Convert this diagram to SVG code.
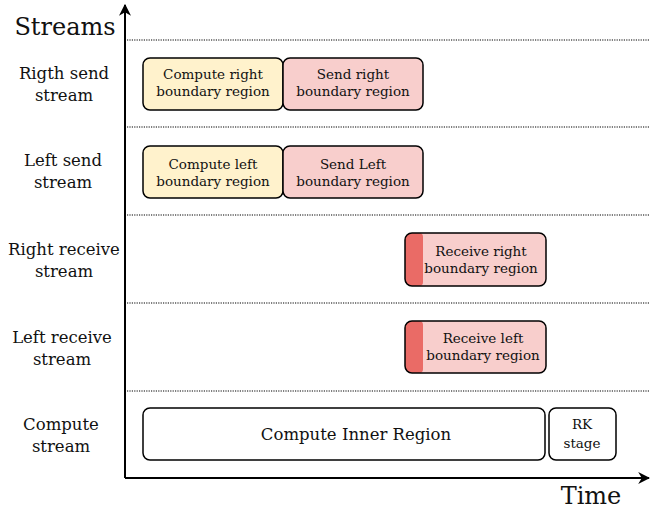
<svg xmlns="http://www.w3.org/2000/svg" width="657" height="509" viewBox="0 0 657 509">
<style>
text{font-family:"DejaVu Serif","Liberation Serif",serif;fill:#111;text-anchor:middle}
.lbl{font-size:16.5px}
.big{font-size:24px}
.bx{font-size:13.5px}
.in{font-size:16.5px}
.box{stroke:#000;stroke-width:1.5}
.dot{stroke:#000;stroke-width:1.2;stroke-dasharray:1.2 1.2;fill:none}
.ax{stroke:#000;stroke-width:2;fill:none}
</style>
<defs>
<marker id="ah" viewBox="0 0 10 10" refX="9" refY="5" markerWidth="12" markerHeight="12" markerUnits="userSpaceOnUse" orient="auto">
<path d="M0,0 L10,5 L0,10 L3,5 Z" fill="#000"/>
</marker>
<clipPath id="c1"><rect x="405" y="233" width="141" height="53" rx="7"/></clipPath>
<clipPath id="c2"><rect x="405" y="321" width="141" height="52" rx="7"/></clipPath>
</defs>
<g id="connectors">
<path class="dot" d="M127,40 H650 M127,127 H650 M127,215 H650 M127,303 H650 M127,391 H650"/>
<path class="ax" d="M125,478 V5" marker-end="url(#ah)"/>
<path class="ax" d="M125,478 H649" marker-end="url(#ah)"/>
</g>
<g id="labels">
<text class="big" x="65" y="35">Streams</text>
<text class="big" x="591" y="504">Time</text>
<text class="lbl" x="64" y="79">Rigth send</text><text class="lbl" x="64" y="101">stream</text>
<text class="lbl" x="63" y="166">Left send</text><text class="lbl" x="63" y="188">stream</text>
<text class="lbl" x="64" y="255">Right receive</text><text class="lbl" x="64" y="277">stream</text>
<text class="lbl" x="62" y="343">Left receive</text><text class="lbl" x="62" y="365">stream</text>
<text class="lbl" x="61" y="430">Compute</text><text class="lbl" x="61" y="452">stream</text>
</g>
<g id="compute-right">
<rect class="box" x="143" y="58" width="140" height="52" rx="7" fill="#FFF2CC"/>
<text class="bx" x="213" y="79">Compute right</text><text class="bx" x="213" y="96">boundary region</text>
</g>
<g id="send-right">
<rect class="box" x="283" y="58" width="140" height="52" rx="7" fill="#F8CECC"/>
<text class="bx" x="353" y="79">Send right</text><text class="bx" x="353" y="96">boundary region</text>
</g>
<g id="compute-left">
<rect class="box" x="143" y="146" width="140" height="52" rx="7" fill="#FFF2CC"/>
<text class="bx" x="213" y="169">Compute left</text><text class="bx" x="213" y="186">boundary region</text>
</g>
<g id="send-left">
<rect class="box" x="283" y="146" width="140" height="52" rx="7" fill="#F8CECC"/>
<text class="bx" x="353" y="169">Send Left</text><text class="bx" x="353" y="186">boundary region</text>
</g>
<g id="receive-right">
<rect x="405" y="233" width="141" height="53" rx="7" fill="#F8CECC"/>
<rect x="405" y="233" width="18" height="53" rx="4" fill="#EA6B66" clip-path="url(#c1)"/>
<rect x="405" y="233" width="12" height="53" fill="#EA6B66" clip-path="url(#c1)"/>
<rect class="box" x="405" y="233" width="141" height="53" rx="7" fill="none"/>
<text class="bx" x="481" y="256">Receive right</text><text class="bx" x="481" y="273">boundary region</text>
</g>
<g id="receive-left">
<rect x="405" y="321" width="141" height="52" rx="7" fill="#F8CECC"/>
<rect x="405" y="321" width="18" height="52" rx="4" fill="#EA6B66" clip-path="url(#c2)"/>
<rect x="405" y="321" width="12" height="52" fill="#EA6B66" clip-path="url(#c2)"/>
<rect class="box" x="405" y="321" width="141" height="52" rx="7" fill="none"/>
<text class="bx" x="483" y="343">Receive left</text><text class="bx" x="483" y="360">boundary region</text>
</g>
<g id="compute-inner">
<rect class="box" x="143" y="408" width="402" height="52" rx="7" fill="#fff"/>
<text class="in" x="356" y="440">Compute Inner Region</text>
</g>
<g id="rk-stage">
<rect class="box" x="549" y="408" width="67" height="52" rx="7" fill="#fff"/>
<text class="bx" x="582" y="429">RK</text><text class="bx" x="582" y="448">stage</text>
</g>
</svg>
